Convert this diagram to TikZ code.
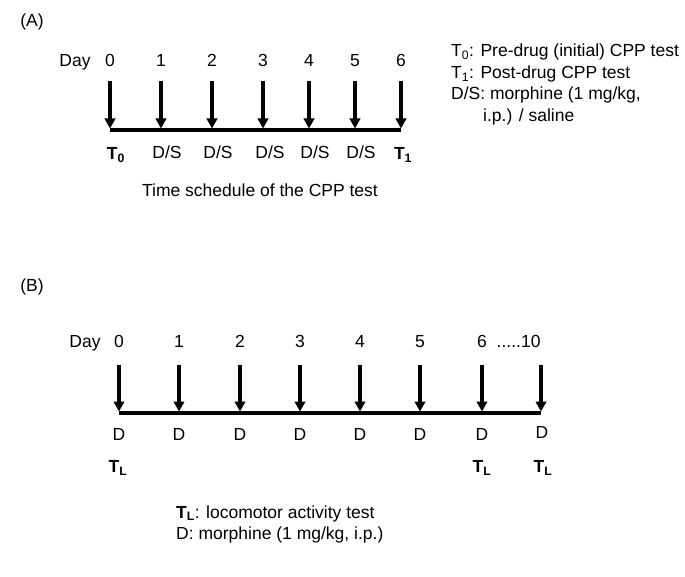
\documentclass[tikz,border=0pt]{standalone}
\usepackage{fontspec}
\setmainfont{Liberation Sans}
\usetikzlibrary{arrows.meta}
\tikzset{
    daytext/.style={font=\fontsize{17.5}{20}\selectfont, text height=12.5pt, text depth=3.5pt},
    dayarrow/.style={-{Triangle[length=10pt,width=10.5pt]}, line width=3.3pt, shorten >=1.5pt},
    timeline/.style={line width=4pt},
    legendtext/.style={daytext, anchor=base west, inner sep=0pt}
}

\begin{document}
\begin{tikzpicture}[x=1pt, y=-1pt, every node/.style={daytext}]
    \useasboundingbox (0,0) rectangle (685,577);

    % Panel A: CPP test
    \node (labA) at (32,22) {(A)};
    \node (dayA) at (75,62) {Day};
    \node (a0) at (110,62) {0};
    \node (a1) at (161,62) {1};
    \node (a2) at (212,62) {2};
    \node (a3) at (263,62) {3};
    \node (a4) at (309,62) {4};
    \node (a5) at (355,62) {5};
    \node (a6) at (401,62) {6};

    \coordinate (p0) at (110,130);
    \coordinate (p1) at (161,130);
    \coordinate (p2) at (212,130);
    \coordinate (p3) at (263,130);
    \coordinate (p4) at (309,130);
    \coordinate (p5) at (355,130);
    \coordinate (p6) at (401,130);

    \draw[timeline] (p0) -- (p6);
    \draw[dayarrow, shorten <=7pt] (a0.south) -- (p0);
    \draw[dayarrow, shorten <=7pt] (a1.south) -- (p1);
    \draw[dayarrow, shorten <=7pt] (a2.south) -- (p2);
    \draw[dayarrow, shorten <=7pt] (a3.south) -- (p3);
    \draw[dayarrow, shorten <=7pt] (a4.south) -- (p4);
    \draw[dayarrow, shorten <=7pt] (a5.south) -- (p5);
    \draw[dayarrow, shorten <=7pt] (a6.south) -- (p6);

    \node (t0) at (116,155) {\textbf{T\textsubscript{0}}};
    \node (s1) at (167,154) {D/S};
    \node (s2) at (218,154) {D/S};
    \node (s3) at (270,154) {D/S};
    \node (s4) at (315,154) {D/S};
    \node (s5) at (361,154) {D/S};
    \node (t1) at (403,155) {\textbf{T\textsubscript{1}}};
    \node (capA) at (260,192) {Time schedule of the CPP test};

    % Legend A
    \node[legendtext] (legA1) at (451,57) {T\textsubscript{0}: Pre-drug (initial) CPP test};
    \node[legendtext] (legA2) at (451,79) {T\textsubscript{1}: Post-drug CPP test};
    \node[legendtext] (legA3) at (451,100) {D/S: morphine (1 mg/kg,};
    \node[legendtext] (legA4) at (483,122) {i.p.) / saline};

    % Panel B: locomotor activity
    \node (labB) at (32,287) {(B)};
    \node (dayB) at (85,343) {Day};
    \node (b0) at (119,343) {0};
    \node (b1) at (179,343) {1};
    \node (b2) at (240,343) {2};
    \node (b3) at (300,343) {3};
    \node (b4) at (360,343) {4};
    \node (b5) at (420,343) {5};
    \node (b6) at (482,343) {6};
    \node[anchor=east] (b10) at (544,343) {.....10};

    \coordinate (q0) at (119,413);
    \coordinate (q1) at (179,413);
    \coordinate (q2) at (240,413);
    \coordinate (q3) at (300,413);
    \coordinate (q4) at (360,413);
    \coordinate (q5) at (420,413);
    \coordinate (q6) at (482,413);
    \coordinate (q10) at (541,413);

    \draw[timeline] (q0) -- (q10);
    \draw[dayarrow, shorten <=10pt] (b0.south) -- (q0);
    \draw[dayarrow, shorten <=10pt] (b1.south) -- (q1);
    \draw[dayarrow, shorten <=10pt] (b2.south) -- (q2);
    \draw[dayarrow, shorten <=10pt] (b3.south) -- (q3);
    \draw[dayarrow, shorten <=10pt] (b4.south) -- (q4);
    \draw[dayarrow, shorten <=10pt] (b5.south) -- (q5);
    \draw[dayarrow, shorten <=10pt] (b6.south) -- (q6);
    \draw[dayarrow, shorten <=10pt] (q10 |- b10.south) -- (q10);

    \node (m0) at (119,436) {D};
    \node (m1) at (179,436) {D};
    \node (m2) at (240,436) {D};
    \node (m3) at (300,436) {D};
    \node (m4) at (360,436) {D};
    \node (m5) at (420,436) {D};
    \node (m6) at (482,436) {D};
    \node (m10) at (542,434) {D};

    \node (l0) at (118,468) {\textbf{T\textsubscript{L}}};
    \node (l6) at (482,468) {\textbf{T\textsubscript{L}}};
    \node (l10) at (543,468) {\textbf{T\textsubscript{L}}};

    % Legend B
    \node[legendtext] (legB1) at (176,518) {\textbf{T\textsubscript{L}}: locomotor activity test};
    \node[legendtext] (legB2) at (176,539) {D: morphine (1 mg/kg, i.p.)};
\end{tikzpicture}
\end{document}
